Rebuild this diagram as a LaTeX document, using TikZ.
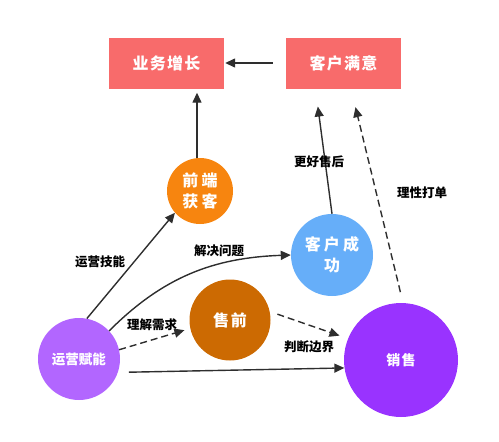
\documentclass[tikz,border=0pt]{standalone}
\usepackage{fontspec}
\setmainfont{Noto Sans CJK SC}
\usetikzlibrary{arrows.meta}
\definecolor{boxred}{HTML}{F86B6B}
\definecolor{huoke}{HTML}{F7850F}
\definecolor{chenggong}{HTML}{66AEF9}
\definecolor{shouqian}{HTML}{CC6A02}
\definecolor{funeng}{HTML}{B266FF}
\definecolor{xiaoshou}{HTML}{9933FF}
\definecolor{linegray}{HTML}{2E2E2E}
\tikzset{
  goalbox/.style={fill=boxred, text=white, minimum width=115pt, minimum height=51pt,
    font=\fontsize{16}{18}\selectfont\bfseries\addfontfeature{LetterSpace=8}},
  ball/.style={circle, inner sep=0pt, text=white, align=center,
    font=\fontsize{16}{21}\selectfont\bfseries\addfontfeature{LetterSpace=20}},
  link/.style={draw=linegray, line width=1.4pt, -{Triangle[length=10pt,width=9pt]}},
  dashlink/.style={link, dash pattern=on 7pt off 4pt},
  tag/.style={font=\fontsize{12.5}{14}\selectfont\bfseries, text=black}
}
\begin{document}
\begin{tikzpicture}[x=1pt,y=-1pt]
  \useasboundingbox (0,0) rectangle (499,442);

  % goals
  \node[goalbox] (ywzz) at (166.5,63) {业务增长};
  \node[goalbox] (khmy) at (343.5,63) {客户满意};

  % circles
  \node[ball, fill=huoke, minimum size=66pt] (qdhk) at (200,191) {前端\\获客};
  \node[ball, fill=chenggong, minimum size=82pt] (khcg) at (332,255) {客户成\\功};
  \node[ball, fill=shouqian, minimum size=81pt, font=\fontsize{16}{20}\selectfont\bfseries\addfontfeature{LetterSpace=10}] (sq) at (230,320) {售前};
  \node[ball, fill=funeng, minimum size=82pt, font=\fontsize{13.5}{16}\selectfont\bfseries] (yyfn) at (79,359) {运营赋能};
  \node[ball, fill=xiaoshou, minimum size=114pt, font=\fontsize{14}{16}\selectfont\bfseries\addfontfeature{LetterSpace=8}] (xs) at (401,360) {销售};

  % connectors
  \draw[link, shorten <=13pt, shorten >=1pt] (khmy.west) -- (ywzz.east);
  \draw[link, shorten >=4pt] ([xshift=-3pt]qdhk.north) -- ([xshift=30.5pt]ywzz.south);
  \draw[link] (yyfn.79) -- (qdhk.221);
  \node[tag] (yyjn) at (100,262) {运营技能};
  \draw[link] (yyfn.43) to[out=45,in=182] (khcg.west);
  \node[tag] (jjwt) at (219,251) {解决问题};
  \draw[dashlink, shorten >=6pt] (yyfn.13) -- (sq.192);
  \node[tag] (ljxq) at (152,325) {理解需求};
  \draw[link, shorten <=11pt] (yyfn.-19) -- (xs.188);
  \draw[dashlink, shorten <=8pt, shorten >=9pt] (sq.12) -- (xs.158);
  \node[tag] (pdbj) at (309,347) {判断边界};
  \draw[link, shorten >=18pt] (khcg.north) -- ([xshift=-28pt]khmy.south);
  \node[tag] (ghsh) at (319,162) {更好售后};
  \draw[dashlink, shorten <=11pt, shorten >=19pt] ([xshift=2pt]xs.north) -- ([xshift=7.5pt]khmy.south);
  \node[tag] (lxdd) at (422,193) {理性打单};
\end{tikzpicture}
\end{document}
